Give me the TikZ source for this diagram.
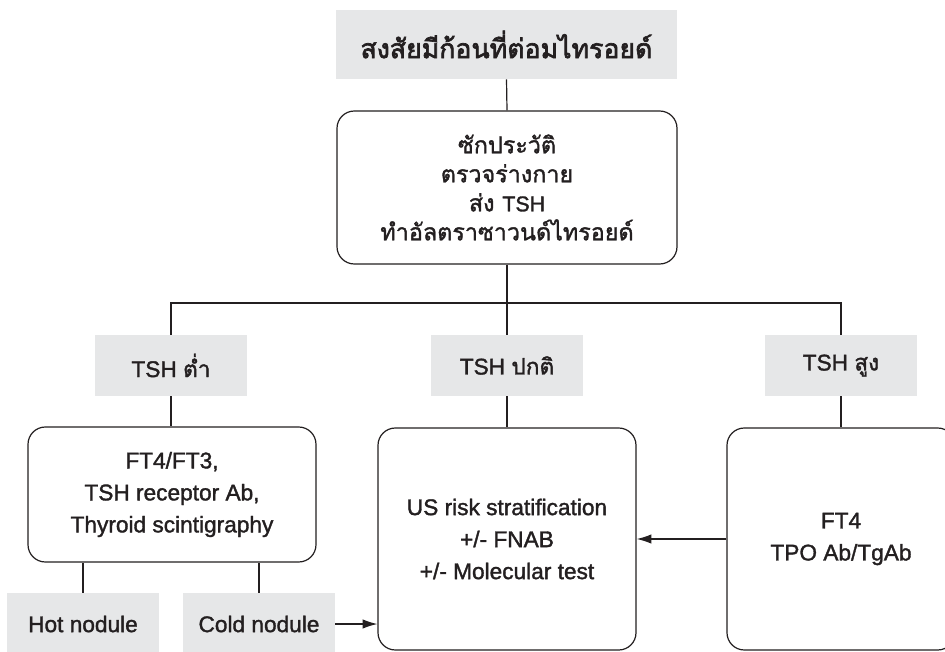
\documentclass[tikz,border=0pt]{standalone}
\usepackage{fontspec}
\setmainfont{Liberation Sans}[FakeBold=1.5]
\newfontfamily\thaifont[Script=Thai,FakeBold=1.5]{Loma}
\newfontfamily\thaititle[Script=Thai,FakeBold=2.5]{Loma}
\newfontfamily\latinfont[FakeBold=1.5]{Liberation Sans}
\usetikzlibrary{shapes,arrows.meta,positioning,calc}
\definecolor{boxgrey}{RGB}{230,231,232}
\definecolor{inkgrey}{RGB}{35,31,32}

\begin{document}
\begin{tikzpicture}[x=0.75pt,y=-0.75pt,
    greybox/.style={fill=boxgrey, inner sep=0pt, align=center, text=inkgrey},
    roundbox/.style={draw=inkgrey, line width=0.9pt, rounded corners=13pt, fill=white, inner sep=0pt, align=center, text=inkgrey},
    link/.style={draw=inkgrey, line width=0.9pt},
    latin/.style={font=\fontsize{17}{24}\selectfont},
    thai/.style={font=\thaifont\fontsize{17.5}{21.75}\selectfont}]
    \useasboundingbox (0,0) rectangle (945,652);
    \clip (0,0) rectangle (945,652);

    % Title
    \node[greybox, minimum width=255.75pt, minimum height=51.75pt,
          font=\thaititle\fontsize{20}{24}\selectfont] (title) at (506.5,44.5) {สงสัยมีก้อนที่ต่อมไทรอยด์};

    % History and work-up
    \node[roundbox, thai, minimum width=255pt, minimum height=114.75pt] (history) at (507,187.5)
        {ซักประวัติ\\ตรวจร่างกาย\\ส่ง {\latinfont\fontsize{16}{21.75}\selectfont TSH}\\ทำอัลตราซาวนด์ไทรอยด์};

    % TSH results
    \node[greybox, latin, minimum width=114pt, minimum height=45.75pt] (tshlow) at (171,365.5) {TSH {\thaifont ต่ำ}};
    \node[greybox, latin, minimum width=114pt, minimum height=45.75pt] (tshnorm) at (507,365.5) {TSH {\thaifont ปกติ}};
    \node[greybox, latin, minimum width=114pt, minimum height=45.75pt] (tshhigh) at (841,365.5) {TSH {\thaifont สูง}};
    \coordinate (split) at (507,303);

    % Next steps
    \node[roundbox, latin, minimum width=216pt, minimum height=101.25pt] (lowbox) at (172,494.5)
        {FT4/FT3,\\TSH receptor Ab,\\Thyroid scintigraphy};
    \node[roundbox, latin, minimum width=193.5pt, minimum height=166.5pt] (normbox) at (507,539)
        {US risk stratification\\+/- FNAB\\+/- Molecular test};
    \node[roundbox, latin, minimum width=171pt, minimum height=166.5pt] (highbox) at (841,539)
        {FT4\\TPO Ab/TgAb};

    % Scan results
    \node[greybox, latin, minimum width=114pt, minimum height=46.5pt] (hot) at (83,624) {Hot nodule};
    \node[greybox, latin, minimum width=114pt, minimum height=46.5pt] (cold) at (259,624) {Cold nodule};

    % Connections
    \draw[link] (title.south) -- (history.north);
    \draw[link] (history.south) -- (split);
    \draw[link] (tshlow.north) |- (split) -| (tshhigh.north);
    \draw[link] (split) -- (tshnorm.north);
    \draw[link] (tshlow.south) -- (tshlow.south |- lowbox.north);
    \draw[link] (tshnorm.south) -- (normbox.north);
    \draw[link] (tshhigh.south) -- (tshhigh.south |- highbox.north);
    \draw[link] (hot.north) -- (hot.north |- lowbox.south);
    \draw[link] (cold.north) -- (cold.north |- lowbox.south);
    \draw[link, -{Latex[length=11pt,width=7pt]}] (cold.east) -- (cold.east -| normbox.west);
    \draw[link, -{Latex[length=11pt,width=7pt]}] (highbox.west) -- (normbox.east);
\end{tikzpicture}
\end{document}
